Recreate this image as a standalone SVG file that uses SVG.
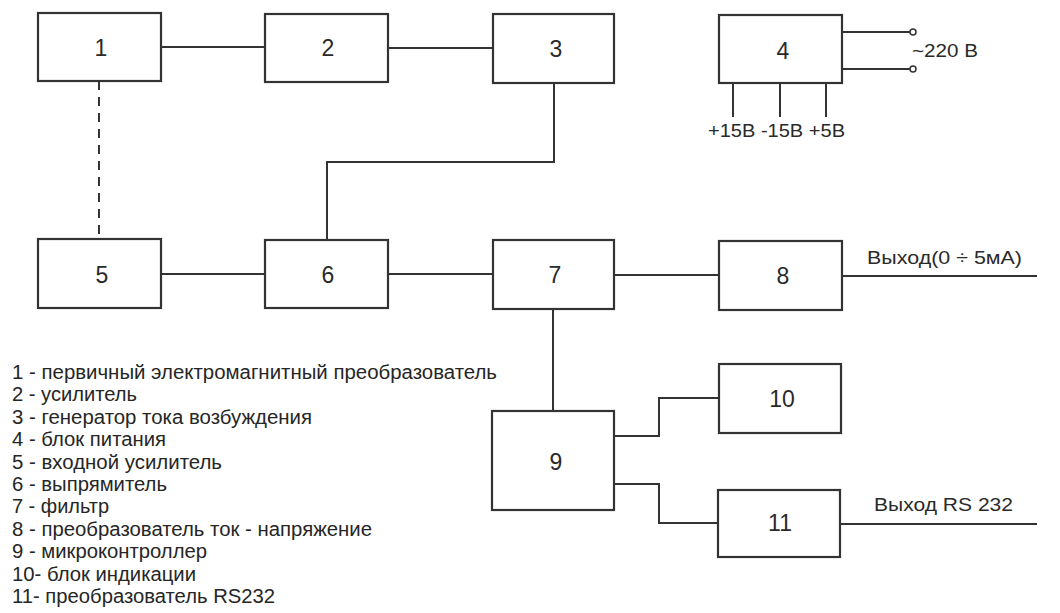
<svg xmlns="http://www.w3.org/2000/svg" width="1060" height="613" viewBox="0 0 1060 613">
<style>
.box{fill:#fff;stroke:#333;stroke-width:2.2}
.ln{fill:none;stroke:#333;stroke-width:2}
.dash{fill:none;stroke:#333;stroke-width:2;stroke-dasharray:9,7}
.lbl{font-family:"Liberation Sans",Arial,sans-serif;font-size:23px;fill:#2a2a2a;text-anchor:middle}
.t{font-family:"Liberation Sans",Arial,sans-serif;fill:#2a2a2a}
.leg{font-family:"Liberation Sans",Arial,sans-serif;font-size:20px;fill:#262626}
</style>
<rect width="1060" height="613" fill="#fff"/>
<g id="connectors">
<line class="ln" x1="161" y1="47" x2="265" y2="47"/>
<line class="ln" x1="388" y1="48" x2="493" y2="48"/>
<polyline class="ln" points="554,83 554,162 327,162 327,240"/>
<line class="dash" x1="99" y1="81" x2="99" y2="239"/>
<line class="ln" x1="161" y1="274" x2="265" y2="274"/>
<line class="ln" x1="388" y1="274" x2="493" y2="274"/>
<line class="ln" x1="614" y1="275" x2="719" y2="275"/>
<line class="ln" x1="842" y1="276" x2="1037" y2="276"/>
<line class="ln" x1="553" y1="309" x2="553" y2="411"/>
<polyline class="ln" points="614,436 659,436 659,398 719,398"/>
<polyline class="ln" points="614,484 659,484 659,523 718,523"/>
<line class="ln" x1="840" y1="524" x2="1037" y2="524"/>
<line class="ln" x1="842" y1="32" x2="910" y2="32"/>
<line class="ln" x1="842" y1="69" x2="910" y2="69"/>
<circle cx="913" cy="32" r="3" fill="#fff" stroke="#333" stroke-width="1.5"/>
<circle cx="913" cy="69" r="3" fill="#fff" stroke="#333" stroke-width="1.5"/>
<line class="ln" x1="733" y1="83" x2="733" y2="117"/>
<line class="ln" x1="780" y1="83" x2="780" y2="117"/>
<line class="ln" x1="826" y1="83" x2="826" y2="117"/>
</g>
<g id="n1"><rect class="box" x="38" y="13" width="123" height="68"/><text class="lbl" x="101" y="56">1</text></g>
<g id="n2"><rect class="box" x="265" y="14" width="123" height="68"/><text class="lbl" x="328" y="56">2</text></g>
<g id="n3"><rect class="box" x="493" y="14" width="121" height="69"/><text class="lbl" x="556" y="57">3</text></g>
<g id="n4"><rect class="box" x="719" y="15" width="123" height="68"/><text class="lbl" x="783" y="59">4</text></g>
<g id="n5"><rect class="box" x="38" y="239" width="123" height="69"/><text class="lbl" x="102" y="283">5</text></g>
<g id="n6"><rect class="box" x="265" y="240" width="123" height="68"/><text class="lbl" x="328" y="283">6</text></g>
<g id="n7"><rect class="box" x="493" y="240" width="121" height="69"/><text class="lbl" x="555" y="283">7</text></g>
<g id="n8"><rect class="box" x="719" y="241" width="123" height="69"/><text class="lbl" x="783" y="284">8</text></g>
<g id="n9"><rect class="box" x="492" y="411" width="122" height="99"/><text class="lbl" x="556" y="470">9</text></g>
<g id="n10"><rect class="box" x="719" y="364" width="122" height="69"/><text class="lbl" x="782" y="407">10</text></g>
<g id="n11"><rect class="box" x="718" y="490" width="122" height="67"/><text class="lbl" x="780" y="531">11</text></g>
<g id="labels">
<text class="t" x="912" y="57" font-size="19" textLength="66" lengthAdjust="spacingAndGlyphs">~220 В</text>
<text class="t" x="708" y="137" font-size="18" textLength="137" lengthAdjust="spacingAndGlyphs">+15В -15В +5В</text>
<text class="t" x="867" y="264" font-size="18" textLength="155" lengthAdjust="spacingAndGlyphs">Выход(0 ÷ 5мА)</text>
<text class="t" x="874" y="511" font-size="19" textLength="139" lengthAdjust="spacingAndGlyphs">Выход RS 232</text>
</g>
<g id="legend">
<text class="leg" x="12" y="379" textLength="485" lengthAdjust="spacingAndGlyphs">1 - первичный электромагнитный преобразователь</text>
<text class="leg" x="12" y="401" textLength="125" lengthAdjust="spacingAndGlyphs">2 - усилитель</text>
<text class="leg" x="12" y="424" textLength="300" lengthAdjust="spacingAndGlyphs">3 - генератор тока возбуждения</text>
<text class="leg" x="12" y="446" textLength="154" lengthAdjust="spacingAndGlyphs">4 - блок питания</text>
<text class="leg" x="12" y="469" textLength="210" lengthAdjust="spacingAndGlyphs">5 - входной усилитель</text>
<text class="leg" x="12" y="491" textLength="155" lengthAdjust="spacingAndGlyphs">6 - выпрямитель</text>
<text class="leg" x="12" y="513" textLength="97" lengthAdjust="spacingAndGlyphs">7 - фильтр</text>
<text class="leg" x="12" y="536" textLength="360" lengthAdjust="spacingAndGlyphs">8 - преобразователь ток - напряжение</text>
<text class="leg" x="12" y="558" textLength="195" lengthAdjust="spacingAndGlyphs">9 - микроконтроллер</text>
<text class="leg" x="12" y="581" textLength="184" lengthAdjust="spacingAndGlyphs">10- блок индикации</text>
<text class="leg" x="12" y="603" textLength="263" lengthAdjust="spacingAndGlyphs">11- преобразователь RS232</text>
</g>
</svg>
